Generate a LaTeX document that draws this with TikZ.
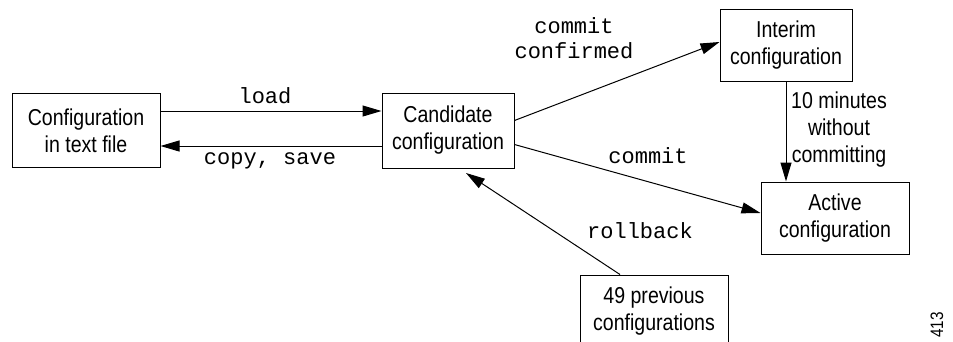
\documentclass[tikz,border=0pt]{standalone}
\usepackage{fontspec}
\setmainfont[FakeStretch=0.85]{Liberation Sans}
\setmonofont{Liberation Mono}
\usetikzlibrary{arrows.meta}
\begin{document}
\begin{tikzpicture}[x=1pt,y=-1pt,
  box/.style={draw,line width=1pt,rectangle,inner sep=0pt,align=center,
    font=\fontsize{23}{27}\selectfont},
  arr/.style={line width=1pt,-{Triangle[length=19pt,width=11pt]}},
  lbl/.style={font=\fontsize{22}{25}\ttfamily,align=center,inner sep=0pt},
  side/.style={font=\fontsize{23}{27}\selectfont,align=center,inner sep=0pt}]
\useasboundingbox (0,0) rectangle (953,341);
\node[box,minimum width=148pt,minimum height=74pt] (file) at (86,130.5) {Configuration\\in text file};
\node[box,minimum width=132pt,minimum height=75pt] (cand) at (448,130.5) {Candidate\\configuration};
\node[box,minimum width=132pt,minimum height=72pt] (interim) at (786,45) {Interim\\configuration};
\node[box,minimum width=148pt,minimum height=72pt] (active) at (835,218) {Active\\configuration};
\node[box,minimum width=148pt,minimum height=73pt] (prev) at (654,311.5) {49 previous\\configurations};
\coordinate (rb) at (466,173);

\draw[arr] ([yshift=19.5pt]file.east) -- ([yshift=19.5pt]cand.west);
\draw[arr] ([yshift=-15.5pt]cand.west) -- ([yshift=-15.5pt]file.east);
\draw[arr] ([yshift=10pt]cand.east) -- ([yshift=3pt]interim.west);
\draw[arr] ([yshift=-14pt]cand.east) -- ([yshift=5pt]active.west);
\draw[arr] (interim.south) -- (interim.south |- active.north);
\draw[arr] ([xshift=-34pt]prev.north) -- (rb);

\node[lbl] (lload) at (265,96) {load};
\node[lbl] (lcopy) at (270,161) {copy, save};
\node[lbl] (lcc) at (574,38) {commit\\confirmed};
\node[lbl] (lcommit) at (648,156) {commit};
\node[lbl] (lroll) at (640,231) {rollback};
\node[side] (lten) at (839,130) {10 minutes\\without\\committing};
\node[rotate=90,font=\fontsize{18}{20}\selectfont,inner sep=0pt] (num) at (937,325) {413};
\end{tikzpicture}
\end{document}
